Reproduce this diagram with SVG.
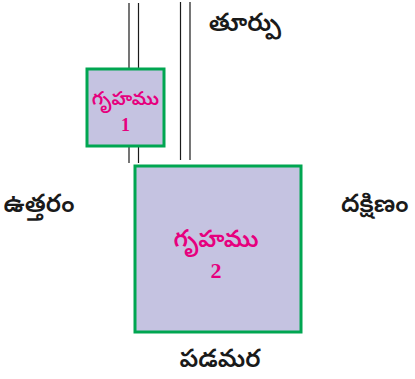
<svg xmlns="http://www.w3.org/2000/svg" width="415" height="379" viewBox="0 0 415 379">
<style>
.road{stroke:#1a1a1a;stroke-width:1.2;fill:none}
.house{fill:#c5c3e1;stroke:#00a651;stroke-width:3}
.hl{font-family:"Noto Sans Telugu","Noto Sans",sans-serif;fill:#e6007e;text-anchor:middle;font-weight:600}
.num{font-family:"Liberation Serif",serif;font-weight:bold;fill:#e6007e;text-anchor:middle}
.dir{font-family:"Noto Sans Telugu","Noto Sans",sans-serif;fill:#1a1a1a;font-size:25px;font-weight:600}
</style>
<rect width="415" height="379" fill="#fff"/>
<g id="connectors">
<line class="road" x1="129" y1="3" x2="129" y2="163"/>
<line class="road" x1="138.5" y1="3" x2="138.5" y2="163"/>
<line class="road" x1="180.5" y1="2" x2="180.5" y2="160"/>
<line class="road" x1="190" y1="2" x2="190" y2="160"/>
</g>
<g id="house1">
<rect class="house" x="87" y="69" width="77" height="77"/>
<text class="hl" x="125.5" y="105" font-size="19">గృహము</text>
<text class="num" x="125.5" y="131" font-size="18">1</text>
</g>
<g id="house2">
<rect class="house" x="135" y="166" width="166" height="166"/>
<text class="hl" x="216" y="247" font-size="24">గృహము</text>
<text class="num" x="216" y="278" font-size="22">2</text>
</g>
<g id="labels">
<text class="dir" x="245" y="31" text-anchor="middle">తూర్పు</text>
<text class="dir" x="39" y="212" text-anchor="middle">ఉత్తరం</text>
<text class="dir" x="341" y="212">దక్షిణం</text>
<text class="dir" x="220" y="367" text-anchor="middle">పడమర</text>
</g>
</svg>
